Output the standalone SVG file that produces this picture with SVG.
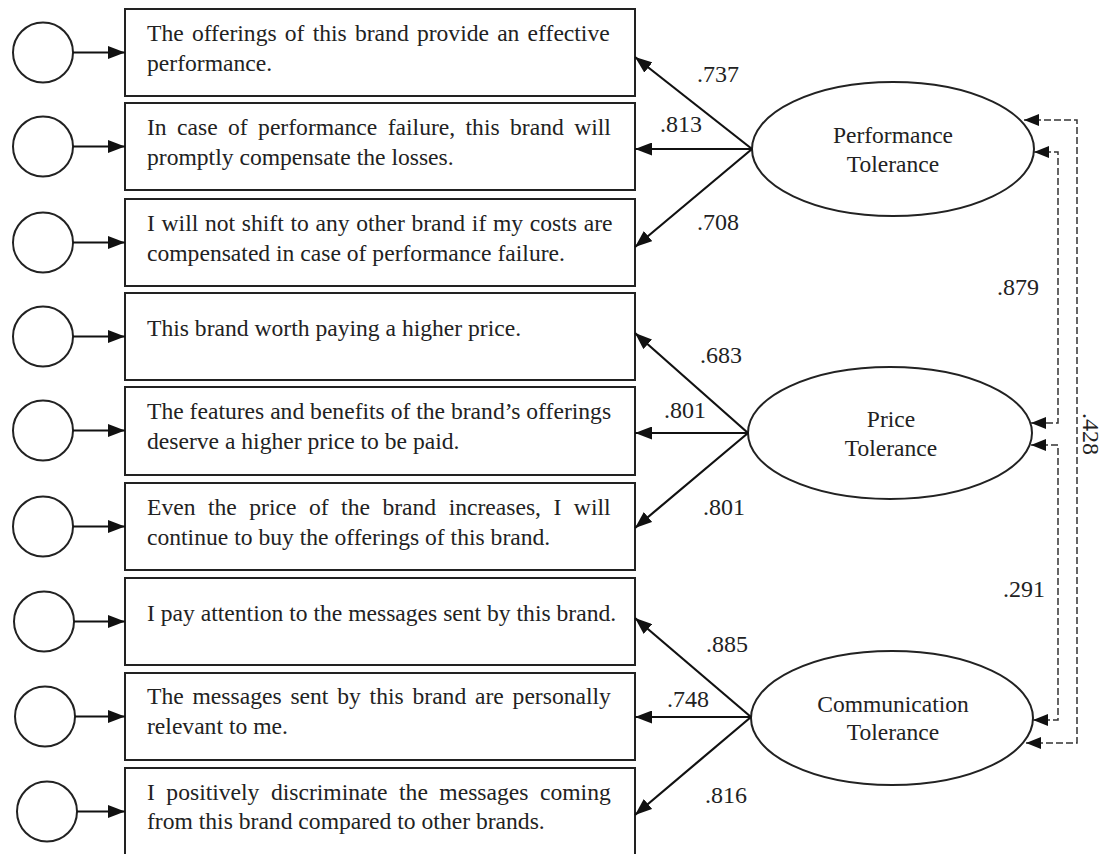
<svg xmlns="http://www.w3.org/2000/svg" width="1104" height="854" viewBox="0 0 1104 854">
<style>
.box{fill:#fff;stroke:#222;stroke-width:2}
.err{fill:#fff;stroke:#222;stroke-width:2}
.lat{fill:#fff;stroke:#222;stroke-width:2}
.t{font-family:"Liberation Serif","Times New Roman",serif;font-size:23.6px;fill:#222}
.lbl{font-family:"Liberation Serif","Times New Roman",serif;font-size:23.5px;fill:#222;text-anchor:middle}
.num{font-family:"Liberation Serif","Times New Roman",serif;font-size:24px;fill:#222;text-anchor:middle}
.ar{stroke:#111;stroke-width:2.2;fill:none;marker-end:url(#ah)}
.cov{stroke:#333;stroke-width:1.5;fill:none;stroke-dasharray:7 3;marker-start:url(#dh);marker-end:url(#dh)}
</style>
<defs>
<marker id="ah" viewBox="0 0 17 13" refX="17" refY="6.5" markerWidth="17" markerHeight="13" markerUnits="userSpaceOnUse" orient="auto-start-reverse"><path d="M0,0 L17,6.5 L0,13 z" fill="#111"/></marker>
<marker id="dh" viewBox="0 0 15 12" refX="15" refY="6" markerWidth="15" markerHeight="12" markerUnits="userSpaceOnUse" orient="auto-start-reverse"><path d="M0,0 L15,6 L0,12 z" fill="#111"/></marker>
</defs>

<g id="e1"><circle class="err" cx="43" cy="52.5" r="30"/></g>
<g id="e2"><circle class="err" cx="43" cy="146.5" r="30"/></g>
<g id="e3"><circle class="err" cx="43" cy="242.5" r="30"/></g>
<g id="e4"><circle class="err" cx="43" cy="336.5" r="30"/></g>
<g id="e5"><circle class="err" cx="43" cy="430.5" r="30"/></g>
<g id="e6"><circle class="err" cx="43" cy="526.5" r="30"/></g>
<g id="e7"><circle class="err" cx="44" cy="621.5" r="30"/></g>
<g id="e8"><circle class="err" cx="45" cy="716.5" r="30"/></g>
<g id="e9"><circle class="err" cx="47" cy="811.5" r="30"/></g>

<g id="i1"><rect class="box" x="125" y="9" width="510" height="87"/>
<text class="t" x="147" y="41" word-spacing="2.3">The offerings of this brand provide an effective</text>
<text class="t" x="147" y="71">performance.</text></g>
<g id="i2"><rect class="box" x="125" y="103" width="510" height="87"/>
<text class="t" x="147" y="135" word-spacing="4.5">In case of performance failure, this brand will</text>
<text class="t" x="147" y="165">promptly compensate the losses.</text></g>
<g id="i3"><rect class="box" x="125" y="199" width="510" height="87"/>
<text class="t" x="147" y="231" word-spacing="0.8">I will not shift to any other brand if my costs are</text>
<text class="t" x="147" y="261">compensated in case of performance failure.</text></g>
<g id="i4"><rect class="box" x="125" y="293" width="510" height="87"/>
<text class="t" x="147" y="336">This brand worth paying a higher price.</text></g>
<g id="i5"><rect class="box" x="125" y="387" width="510" height="88"/>
<text class="t" x="147" y="419">The features and benefits of the brand’s offerings</text>
<text class="t" x="147" y="449">deserve a higher price to be paid.</text></g>
<g id="i6"><rect class="box" x="125" y="483" width="510" height="87"/>
<text class="t" x="147" y="515" word-spacing="6.6">Even the price of the brand increases, I will</text>
<text class="t" x="147" y="545">continue to buy the offerings of this brand.</text></g>
<g id="i7"><rect class="box" x="125" y="578" width="510" height="87"/>
<text class="t" x="147" y="621">I pay attention to the messages sent by this brand.</text></g>
<g id="i8"><rect class="box" x="125" y="673" width="510" height="87"/>
<text class="t" x="147" y="704" word-spacing="2.9">The messages sent by this brand are personally</text>
<text class="t" x="147" y="734">relevant to me.</text></g>
<g id="i9"><rect class="box" x="125" y="768" width="510" height="90"/>
<text class="t" x="147" y="800" word-spacing="5.6">I positively discriminate the messages coming</text>
<text class="t" x="147" y="829">from this brand compared to other brands.</text></g>

<g id="perf"><ellipse class="lat" cx="893" cy="149" rx="141" ry="67"/>
<text class="lbl" x="893" y="143">Performance</text>
<text class="lbl" x="893" y="172">Tolerance</text></g>
<g id="price"><ellipse class="lat" cx="890" cy="433" rx="142" ry="66"/>
<text class="lbl" x="891" y="427">Price</text>
<text class="lbl" x="891" y="456">Tolerance</text></g>
<g id="comm"><ellipse class="lat" cx="892" cy="718" rx="141" ry="67"/>
<text class="lbl" x="893" y="712">Communication</text>
<text class="lbl" x="893" y="740">Tolerance</text></g>

<g id="connectors">
<path class="ar" d="M73,52.5 H125"/>
<path class="ar" d="M73,146.5 H125"/>
<path class="ar" d="M73,242.5 H125"/>
<path class="ar" d="M73,336.5 H125"/>
<path class="ar" d="M73,430.5 H125"/>
<path class="ar" d="M73,526.5 H125"/>
<path class="ar" d="M74,621.5 H125"/>
<path class="ar" d="M75,716.5 H125"/>
<path class="ar" d="M77,811.5 H125"/>

<path class="ar" d="M752,149 L635,57"/>
<path class="ar" d="M752,149 H635"/>
<path class="ar" d="M752,149 L635,247"/>
<path class="ar" d="M748,433 L635,333"/>
<path class="ar" d="M748,433 H635"/>
<path class="ar" d="M748,433 L635,528"/>
<path class="ar" d="M751,717 L635,618"/>
<path class="ar" d="M751,717 H635"/>
<path class="ar" d="M751,717 L635,815"/>

<path class="cov" d="M1034,152 H1058 V423 H1031"/>
<path class="cov" d="M1031,445 H1058 V720 H1033"/>
<path class="cov" d="M1024,120 H1077 V743 H1026"/>

<text class="num" x="718" y="82">.737</text>
<text class="num" x="681" y="132">.813</text>
<text class="num" x="718" y="230">.708</text>
<text class="num" x="721" y="363">.683</text>
<text class="num" x="685" y="418">.801</text>
<text class="num" x="724" y="515">.801</text>
<text class="num" x="727" y="652">.885</text>
<text class="num" x="688" y="707">.748</text>
<text class="num" x="726" y="803">.816</text>
<text class="num" x="1018" y="295">.879</text>
<text class="num" x="1024" y="597">.291</text>
<text class="num" transform="translate(1083,434) rotate(90)" x="0" y="0">.428</text>
</g>
</svg>
